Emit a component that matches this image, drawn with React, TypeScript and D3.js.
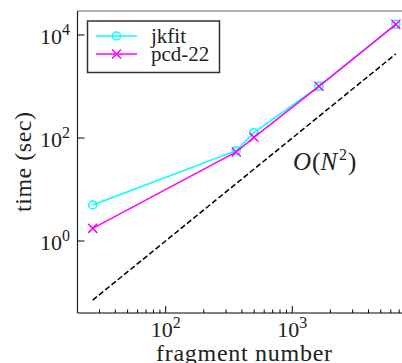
import React from 'react';
import * as d3 from 'd3';

// fragment counts and timings (sec)
const fragments = [26.5, 361, 498, 1625, 6580];
const jkfitTime = [5.0, 56.6, 127, 1009, 16100];
const pcdTime = [1.76, 53.5, 103, 1009, 16100];

// O(N^2) guide line end points
const guideN = [26.5, 6580];
const guideTime = [0.071, 4300];

const xTicks = [100, 1000];
const yTicks = [1, 100, 10000];

const W = 402;
const H = 363;
const serif = 'Liberation Serif';

const App = () => {
  const x = d3.scaleLog().domain([20.1, 8590]).range([77.5, 410.5]);
  const y = d3.scaleLog().domain([0.04, 29240]).range([313, 11]);

  const line = d3.line<[number, number]>()
    .x(d => x(d[0]))
    .y(d => y(d[1]));

  const jk = fragments.map((f, i) => [f, jkfitTime[i]] as [number, number]);
  const pcd = fragments.map((f, i) => [f, pcdTime[i]] as [number, number]);
  const guide = guideN.map((f, i) => [f, guideTime[i]] as [number, number]);

  // minor ticks on x only (y has none in the original)
  const [x0, x1] = x.domain();
  const minor: number[] = [];
  for (let d = 1; d <= 3; d++) {
    for (let k = 2; k <= 9; k++) {
      const v = k * Math.pow(10, d);
      if (v >= x0 && v <= x1) minor.push(v);
    }
  }

  const exp = (v: number) => Math.round(Math.log10(v));
  const xm = x.range()[0];
  const xr = x.range()[1];
  const yb = y.range()[0];
  const yt = y.range()[1];

  const cross = (cx: number, cy: number, s: number) =>
    `M${cx - s},${cy - s}L${cx + s},${cy + s}M${cx - s},${cy + s}L${cx + s},${cy - s}`;

  return (
    <svg width={W} height={H} style={{ position: 'absolute', left: 0, top: 0, background: '#fff' }}>
      {/* guide line */}
      <path d={line(guide) || ''} fill="none" stroke="#000" strokeWidth={1.5} strokeDasharray="5.5,2.6" />

      {/* jkfit */}
      <path d={line(jk) || ''} fill="none" stroke="#00ffff" strokeWidth={1.5} />
      {jk.map((d, i) => (
        <circle key={'c' + i} cx={x(d[0])} cy={y(d[1])} r={4} fill="none" stroke="#00ffff" strokeWidth={1.5} />
      ))}

      {/* pcd-22 */}
      <path d={line(pcd) || ''} fill="none" stroke="#ff00ff" strokeWidth={1.5} />
      {pcd.map((d, i) => (
        <path key={'x' + i} d={cross(x(d[0]), y(d[1]), 4.5)} fill="none" stroke="#ff00ff" strokeWidth={1.5} />
      ))}

      <text x={293} y={170} fontFamily={serif} fontSize={25} fill="#222">
        <tspan fontStyle="italic">O</tspan><tspan dx={1}>(</tspan><tspan fontStyle="italic">N</tspan>
        <tspan fontSize={16} dx={2} dy={-10}>2</tspan><tspan dx={1} dy={10}>)</tspan>
      </text>

      {/* spines */}
      <line x1={xm} x2={xr} y1={yt} y2={yt} stroke="#666" strokeWidth={1.2} />
      <line x1={xm} x2={xm} y1={yt} y2={yb} stroke="#222" strokeWidth={1.2} />
      <line x1={xm} x2={xr} y1={yb} y2={yb} stroke="#000" strokeWidth={1.2} />

      {/* x ticks */}
      {minor.map(v => (
        <line key={'m' + v} x1={x(v)} x2={x(v)} y1={yb} y2={yb - 3.5} stroke="#000" strokeWidth={1} />
      ))}
      {xTicks.map(v => (
        <g key={'xt' + v}>
          <line x1={x(v)} x2={x(v)} y1={yb} y2={yb - 7} stroke="#000" strokeWidth={1} />
          <text x={x(v)} y={337} textAnchor="middle" fontFamily={serif} fontSize={22} fill="#222">
            10<tspan fontSize={16} dy={-9}>{exp(v)}</tspan>
          </text>
        </g>
      ))}

      {/* y ticks */}
      {yTicks.map(v => (
        <g key={'yt' + v}>
          <line x1={xm} x2={xm + 7} y1={y(v)} y2={y(v)} stroke="#000" strokeWidth={1} />
          <text x={70} y={y(v) + 9} textAnchor="end" fontFamily={serif} fontSize={22} fill="#222">
            10<tspan fontSize={16} dy={-9}>{exp(v)}</tspan>
          </text>
        </g>
      ))}

      {/* axis labels */}
      <text x={244} y={361} textAnchor="middle" fontFamily={serif} fontSize={24} fill="#222"
        textLength={176} lengthAdjust="spacing">fragment number</text>
      <text transform={`translate(31,${(yt + yb) / 2}) rotate(-90)`} textAnchor="middle"
        fontFamily={serif} fontSize={24} fill="#222" textLength={100} lengthAdjust="spacing">
        time (sec)
      </text>

      {/* legend */}
      <rect x={87.5} y={21} width={132} height={51.5} fill="#fff" stroke="#333" strokeWidth={1.5} />
      <line x1={96} x2={137} y1={36} y2={36} stroke="#00ffff" strokeWidth={1.5} />
      <circle cx={116.5} cy={36} r={4} fill="none" stroke="#00ffff" strokeWidth={1.5} />
      <text x={151} y={43} fontFamily={serif} fontSize={21} fill="#222">jkfit</text>
      <line x1={96} x2={137} y1={54} y2={54} stroke="#ff00ff" strokeWidth={1.5} />
      <path d={cross(116.5, 54, 4.5)} fill="none" stroke="#ff00ff" strokeWidth={1.5} />
      <text x={151} y={60.5} fontFamily={serif} fontSize={21} fill="#222">pcd-22</text>
    </svg>
  );
};

export default App;
